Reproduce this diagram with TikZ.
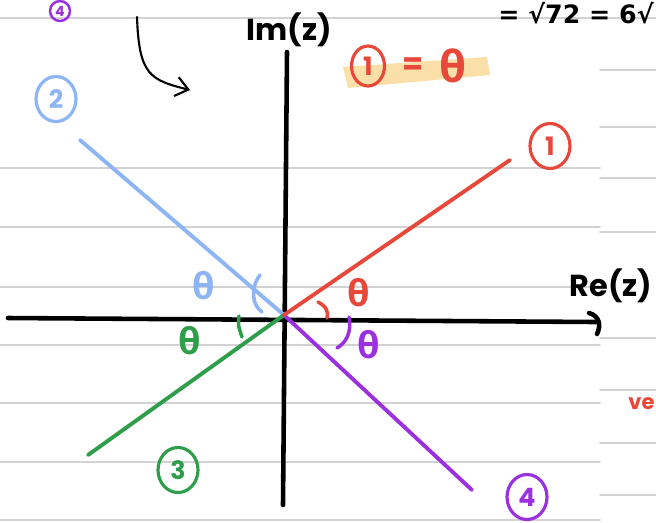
\documentclass[tikz,border=0pt]{standalone}
\usepackage{fontspec}
\setmainfont{Poppins}
\newfontfamily\greekfont{Open Sans}
\newfontfamily\symbfont{DejaVu Sans}
\usetikzlibrary{arrows.meta,positioning,shapes.geometric,calc}
\definecolor{argred}{RGB}{232,72,58}
\definecolor{argblue}{RGB}{141,180,245}
\definecolor{arggreen}{RGB}{46,158,74}
\definecolor{argpurple}{RGB}{155,48,224}
\definecolor{rulegray}{RGB}{210,210,210}
\definecolor{hilite}{RGB}{249,214,140}

\begin{document}
\begin{tikzpicture}[
  x=0.02cm, y=-0.02cm,
  line cap=round, line join=round,
  ruled/.style={draw=rulegray, line width=0.9pt},
  axis/.style={line width=2.6pt, draw=black},
  ray/.style={line width=2.2pt},
  tickmark/.style={line width=2pt},
  numcirc/.style={ellipse, draw, line width=1.8pt, inner sep=0pt,
    minimum width=0.8cm, minimum height=0.9cm, font=\bfseries\Large},
  theta/.style={font=\greekfont\bfseries\huge, inner sep=0pt},
  axlabel/.style={font=\bfseries\LARGE, inner sep=0pt},
  pointer/.style={line width=1.2pt, -{Straight Barb[length=7pt,width=11pt]}}
]
  \useasboundingbox[fill=white] (0,0) rectangle (656,522);

  % ruled paper
  \foreach \y in {168,227,287,345,403,462,520} {
    \draw[ruled] (0,\y) -- (600,\y);
  }
  \draw[ruled] (0,18) -- (656,18);
  \foreach \y in {70,127,178,232,338,390,443,495} {
    \draw[ruled] (600,\y) -- (656,\y);
  }

  % axes
  \coordinate (O) at (284,315);
  \coordinate (reL) at (8,318);
  \coordinate (reR) at (596,322);
  \coordinate (imT) at (287,52);
  \coordinate (imB) at (283,505);
  \draw[axis] (reL) -- (reR);
  \draw[axis] (imT) -- (imB);
  \draw[axis] (589,313) .. controls (600,316) and (601,326) .. (597,334);
  \node[axlabel] (imlabel) at (289,30) {Im(z)};
  \node[axlabel] (relabel) at (611,286) {Re(z)};

  % the four rays
  \coordinate (e1) at (510,160);
  \coordinate (e2) at (80,140);
  \coordinate (e3) at (88,455);
  \coordinate (e4) at (472,490);
  \foreach \e/\c in {e2/argblue,e3/arggreen,e4/argpurple,e1/argred} {
    \draw[ray, \c] (O) -- (\e);
  }

  % angle marks
  \draw[tickmark, argred] (318,302) .. controls (326,306) and (329,312) .. (327,318);
  \draw[tickmark, argblue] (260,275) .. controls (250,288) and (252,305) .. (262,312);
  \draw[tickmark, arggreen] (239,316) .. controls (238,325) .. (242,337);
  \draw[tickmark, argpurple] (349,317) .. controls (352,332) and (346,343) .. (337,348);

  \node[theta, argred] (thred) at (359,293) {θ};
  \node[theta, argblue] (thblue) at (204,286) {θ};
  \node[theta, arggreen] (thgreen) at (190,341) {θ};
  \node[theta, argpurple] (thpurple) at (369,345) {θ};

  % circled numbers
  \node[numcirc, argred] (one) at (550,146) {1};
  \node[numcirc, argblue] (two) at (56,99) {2};
  \node[numcirc, arggreen] (three) at (178,470) {3};
  \node[numcirc, argpurple] (four) at (527,497) {4};

  % note 1 = theta
  \fill[hilite, opacity=0.75] (343,67) -- (487,57) -- (490,75) -- (348,88) -- cycle;
  \node[numcirc, argred, minimum width=0.66cm, minimum height=0.8cm] (eqone) at (368,66) {1};
  \node[font=\bfseries\LARGE, argred, right=0.2cm of eqone] (eqsign) {=};
  \node[theta, argred, font=\greekfont\bfseries\Huge, right=0.2cm of eqsign] (eqtheta) {θ};

  % notes at the edges
  \node[numcirc, argpurple, minimum width=0.4cm, minimum height=0.4cm, line width=1.4pt,
    font=\bfseries\footnotesize] (topfour) at (60,11) {4};
  \draw[pointer] (137,17) .. controls (139,75) and (150,80) .. (190,90);
  \node[font=\symbfont\bfseries\Large, anchor=north east, inner sep=0pt] (topsum) at (654,2) {= √72 = 6√};
  \node[font=\bfseries\large, argred, anchor=east, inner sep=0pt] (ve) at (655,404) {ve};
\end{tikzpicture}
\end{document}
